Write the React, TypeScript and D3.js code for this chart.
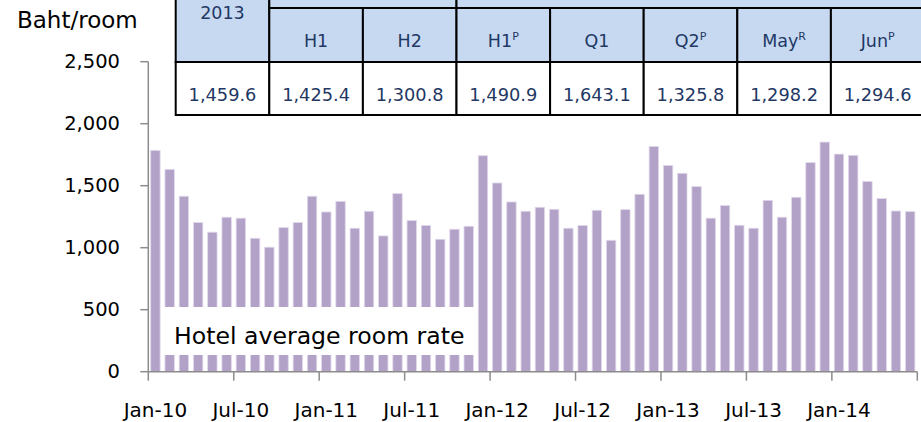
import React from "react";
import * as d3 from "d3";

// Monthly hotel average room rate, Jan-10 .. Jun-14 (Baht/room)
const rates: number[] = [
  1785, 1632, 1415, 1203, 1125, 1246, 1238, 1076, 1004, 1162, 1203, 1415,
  1288, 1374, 1157, 1294, 1095, 1436, 1219, 1179, 1068, 1149, 1173, 1742,
  1522, 1369, 1294, 1326, 1310, 1157, 1179, 1302, 1060, 1307, 1431, 1817,
  1664, 1600, 1493, 1238, 1340, 1181, 1157, 1382, 1246, 1407, 1686, 1852,
  1755, 1745, 1535, 1396, 1296, 1291,
];
const firstMonth = new Date(2010, 0, 1);
const xTickLabels = ["Jan-10", "Jul-10", "Jan-11", "Jul-11", "Jan-12", "Jul-12", "Jan-13", "Jul-13", "Jan-14"];
const yTicks = [0, 500, 1000, 1500, 2000, 2500];

// Summary table
const tableHeads = ["2013", "H1", "H2", "H1", "Q1", "Q2", "May", "Jun"];
const tableSups = ["", "", "", "P", "", "P", "R", "P"];
const tableValues = [1459.6, 1425.4, 1300.8, 1490.9, 1643.1, 1325.8, 1298.2, 1294.6];

const W = 921;
const H = 422;
const FONT = "'DejaVu Sans', Verdana, sans-serif";
const BAR = "#b3a2c7";
const AXIS = "#8c8c8c";
const TBL_TEXT = "#1f3864";
const TBL_FILL = "#c6d9f1";

export default function App() {
  const months = rates.map((_, i) => d3.timeMonth.offset(firstMonth, i));
  const fmtMonth = d3.timeFormat("%b-%y");
  const keys = months.map((m) => fmtMonth(m));

  const x = d3
    .scaleBand<string>()
    .domain(keys)
    .range([148.3, 917.3])
    .paddingInner(0.34)
    .paddingOuter(0.17);
  const y = d3.scaleLinear().domain([0, 2500]).range([371.7, 61.7]);
  const step = x.step();
  const x0 = x.range()[0];

  const tickIdx = d3.range(0, rates.length + 1, 6);

  // table geometry
  const tX = 175.7;
  const colW = 93.6;
  const r0 = -46, r1 = 8, r2 = 62, r3 = 115;
  const fmtVal = d3.format(",.1f");

  return (
    <svg
      width={W}
      height={H}
      style={{ position: "absolute", left: 0, top: 0, background: "#fff" }}
      fontFamily={FONT}
    >
      <rect x={0} y={0} width={W} height={H} fill="#fff" />

      {/* bars */}
      {rates.map((v, i) => (
        <rect
          key={keys[i]}
          x={x(keys[i])}
          y={y(v)}
          width={x.bandwidth()}
          height={y(0) - y(v)}
          fill={BAR}
          stroke="#e2d9ec"
          strokeWidth={0.8}
        />
      ))}

      {/* y axis */}
      <line x1={x0} x2={x0} y1={y(2500)} y2={y(0)} stroke={AXIS} strokeWidth={1.5} />
      {yTicks.map((t) => (
        <g key={t}>
          <line x1={x0 - 8} x2={x0} y1={y(t)} y2={y(t)} stroke={AXIS} strokeWidth={1.5} />
          <text
            x={120}
            y={y(t)}
            textAnchor="end"
            dominantBaseline="central"
            fontSize={19.5}
            fill="#000"
          >
            {d3.format(",")(t)}
          </text>
        </g>
      ))}

      {/* x axis */}
      <line x1={x0} x2={917.3} y1={y(0)} y2={y(0)} stroke={AXIS} strokeWidth={1.5} />
      {tickIdx.map((k) => (
        <line
          key={k}
          x1={x0 + k * step}
          x2={x0 + k * step}
          y1={y(0)}
          y2={y(0) + 9}
          stroke={AXIS}
          strokeWidth={1.5}
        />
      ))}
      {xTickLabels.map((lab, j) => {
        const key = keys[j * 6];
        return (
          <text
            key={lab}
            x={(x(key) as number) + x.bandwidth() / 2}
            y={417}
            textAnchor="middle"
            fontSize={20}
            fill="#000"
          >
            {lab}
          </text>
        );
      })}

      {/* unit label */}
      <text x={17} y={28.3} fontSize={23} fill="#000">
        Baht/room
      </text>

      {/* legend box */}
      <rect x={164} y={307} width={310} height={48} fill="#fff" />
      <text x={174} y={343.5} fontSize={23.6} fill="#000">
        Hotel average room rate
      </text>

      {/* table */}
      <g>
        {/* first column header spans two rows */}
        <rect x={tX} y={r0} width={colW} height={r2 - r0} fill={TBL_FILL} stroke="#000" strokeWidth={2} />
        {/* group header row */}
        <rect x={tX + colW} y={r0} width={colW * 2} height={r1 - r0} fill={TBL_FILL} stroke="#000" strokeWidth={2} />
        <rect x={tX + colW * 3} y={r0} width={colW * 5 + 10} height={r1 - r0} fill={TBL_FILL} stroke="#000" strokeWidth={2} />
        {tableHeads.map((h, i) => {
          const cx = tX + colW * i + colW / 2;
          return (
            <g key={"c" + i}>
              {i > 0 && (
                <rect
                  x={tX + colW * i}
                  y={r1}
                  width={colW}
                  height={r2 - r1}
                  fill={TBL_FILL}
                  stroke="#000"
                  strokeWidth={2}
                />
              )}
              <rect
                x={tX + colW * i}
                y={r2}
                width={colW}
                height={r3 - r2}
                fill="#fff"
                stroke="#000"
                strokeWidth={2}
              />
              <text
                x={cx}
                y={i === 0 ? 18.5 : 46.5}
                textAnchor="middle"
                fontSize={17.5}
                fill={TBL_TEXT}
              >
                {h}
                {tableSups[i] && (
                  <tspan dy={-7} fontSize={11}>
                    {tableSups[i]}
                  </tspan>
                )}
              </text>
              <text x={cx} y={100.5} textAnchor="middle" fontSize={17.8} fill={TBL_TEXT}>
                {fmtVal(tableValues[i])}
              </text>
            </g>
          );
        })}
      </g>
    </svg>
  );
}
